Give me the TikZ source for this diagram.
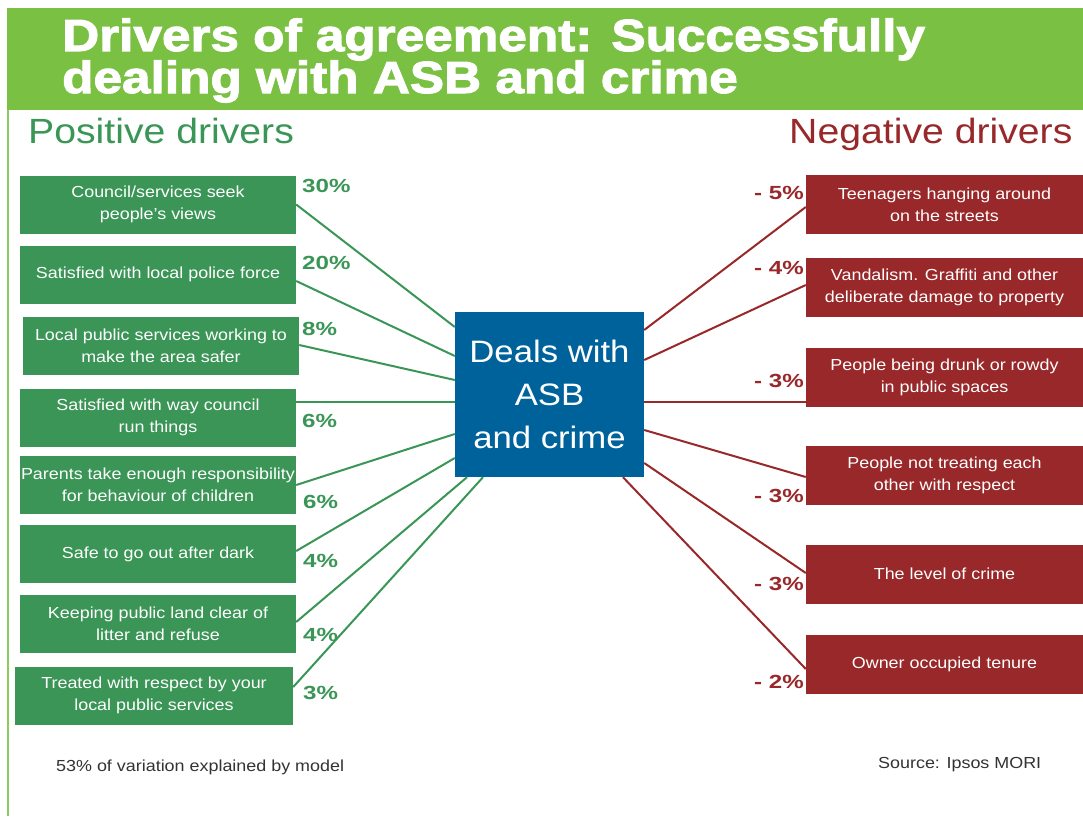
\documentclass[tikz,border=0pt]{standalone}
\usepackage{fontspec}
\setmainfont[FakeStretch=1.12]{Liberation Sans}
\newfontfamily\pctfont[FakeStretch=1.27]{Liberation Sans}
\newfontfamily\titlefont[FakeStretch=1.14,FakeBold=2.4]{Liberation Sans Bold}
\definecolor{banner}{HTML}{7AC143}
\definecolor{edgegreen}{HTML}{8CCB5E}
\definecolor{posgreen}{HTML}{3A9656}
\definecolor{boxgreen}{HTML}{3A9556}
\definecolor{negred}{HTML}{982829}
\definecolor{hubblue}{HTML}{00629B}
\definecolor{notegrey}{HTML}{333333}
\begin{document}
\begin{tikzpicture}[x=1pt,y=-1pt,
  gbox/.style={fill=boxgreen, text=white, minimum width=276pt, minimum height=58pt,
    inner sep=0pt, align=center, font=\fontsize{16}{22}\selectfont},
  rbox/.style={fill=negred, text=white, minimum width=277pt, minimum height=59pt,
    inner sep=0pt, align=center, font=\fontsize{16}{22}\selectfont},
  glink/.style={draw=posgreen, line width=2pt},
  rlink/.style={draw=negred, line width=2pt},
  gpct/.style={text=posgreen, inner sep=0pt, anchor=west, font=\pctfont\bfseries\fontsize{19}{20}\selectfont},
  rpct/.style={text=negred, inner sep=0pt, anchor=east, font=\pctfont\bfseries\fontsize{19}{20}\selectfont},
  titleline/.style={text=white, inner sep=0pt, anchor=base west, font=\titlefont\fontsize{45}{45}\selectfont},
  heading/.style={inner sep=0pt, anchor=base west, font=\fontsize{35}{35}\selectfont},
  note/.style={text=notegrey, inner sep=0pt, anchor=base west, font=\fontsize{16}{18}\selectfont}
]
\useasboundingbox (0,0) rectangle (1083,816);
\fill[white] (0,0) rectangle (1083,816);

% title banner and left rule
\fill[banner] (7,8) rectangle (1083,110);
\draw[edgegreen, line width=2pt] (8,110) -- (8,816);
\node[titleline] (t1) at (62,51) {Drivers of agreement: Successfully};
\node[titleline] (t2) at (62,93) {dealing with ASB and crime};

% column headings
\node[heading, text=posgreen] (hpos) at (28,143) {Positive drivers};
\node[heading, text=negred] (hneg) at (789,143) {Negative drivers};

% central outcome
\node[fill=hubblue, text=white, minimum width=189pt, minimum height=165pt, inner sep=0pt,
  align=center, font=\fontsize{31}{43}\selectfont] (hub) at (549.5,394.5)
  {Deals with\\ASB\\and crime};

% positive drivers
\node[gbox] (l1) at (158,204.5) {Council/services seek\\people's views};
\node[gbox] (l2) at (158,274.5) {Satisfied with local police force};
\node[gbox] (l3) at (161,346) {Local public services working to\\make the area safer};
\node[gbox] (l4) at (158,417.5) {Satisfied with way council\\run things};
\node[gbox] (l5) at (158,485) {Parents take enough responsibility\\for behaviour of children};
\node[gbox] (l6) at (158,554) {Safe to go out after dark};
\node[gbox] (l7) at (158,624) {Keeping public land clear of\\litter and refuse};
\node[gbox, minimum width=278pt] (l8) at (154,695.5) {Treated with respect by your\\local public services};

% negative drivers
\node[rbox] (r1) at (944.5,204.5) {Teenagers hanging around\\on the streets};
\node[rbox] (r2) at (944.5,287.5) {Vandalism. Graffiti and other\\deliberate damage to property};
\node[rbox] (r3) at (944.5,377.5) {People being drunk or rowdy\\in public spaces};
\node[rbox] (r4) at (944.5,475.5) {People not treating each\\other with respect};
\node[rbox] (r5) at (944.5,574) {The level of crime};
\node[rbox] (r6) at (944.5,664.5) {Owner occupied tenure};

% links from positive drivers
\draw[glink] (l1.east) -- ([yshift=67.5pt]hub.west);
\draw[glink] ([yshift=-6.5pt]l2.east) -- ([yshift=38.5pt]hub.west);
\draw[glink] ([yshift=1pt]l3.east) -- ([yshift=14.5pt]hub.west);
\draw[glink] ([yshift=15.5pt]l4.east) -- ([yshift=-7.5pt]hub.west);
\draw[glink] (l5.east) -- ([yshift=-39.5pt]hub.west);
\draw[glink] ([yshift=3pt]l6.east) -- ([yshift=-63.5pt]hub.west);
\draw[glink] ([yshift=2pt]l7.east) -- ([xshift=-82.5pt]hub.south);
\draw[glink] ([yshift=8.5pt]l8.east) -- ([xshift=-66.5pt]hub.south);

% links to negative drivers
\draw[rlink] ([yshift=64.5pt]hub.east) -- ([yshift=-2.5pt]r1.west);
\draw[rlink] ([yshift=34.5pt]hub.east) -- ([yshift=2.5pt]r2.west);
\draw[rlink] ([yshift=-7.5pt]hub.east) -- ([yshift=-24.5pt]r3.west);
\draw[rlink] ([yshift=-35.5pt]hub.east) -- ([yshift=-1.5pt]r4.west);
\draw[rlink] ([yshift=-68.5pt]hub.east) -- ([yshift=1pt]r5.west);
\draw[rlink] ([xshift=73.5pt]hub.south) -- ([yshift=-4.5pt]r6.west);

% coefficients
\node[gpct] (p1) at (302,186) {30\%};
\node[gpct] (p2) at (302,263) {20\%};
\node[gpct] (p3) at (302,329) {8\%};
\node[gpct] (p4) at (302,421) {6\%};
\node[gpct] (p5) at (303,502) {6\%};
\node[gpct] (p6) at (303,561) {4\%};
\node[gpct] (p7) at (303,635) {4\%};
\node[gpct] (p8) at (303,693) {3\%};
\node[rpct] (n1) at (804,193) {- 5\%};
\node[rpct] (n2) at (804,268) {- 4\%};
\node[rpct] (n3) at (804,381) {- 3\%};
\node[rpct] (n4) at (804,496) {- 3\%};
\node[rpct] (n5) at (804,584) {- 3\%};
\node[rpct] (n6) at (804,682) {- 2\%};

% footnotes
\node[note] (fit) at (56,771) {53\% of variation explained by model};
\node[note] (src) at (878,768) {Source: Ipsos MORI};
\end{tikzpicture}
\end{document}
